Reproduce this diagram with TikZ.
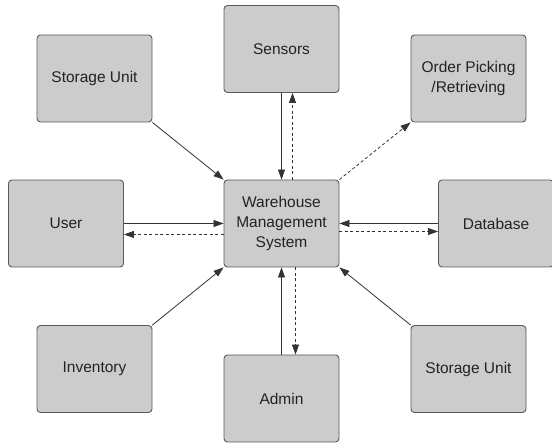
\documentclass[tikz,border=0pt]{standalone}
\usepackage{fontspec}
\setmainfont{Liberation Sans}
\usetikzlibrary{arrows.meta}
\definecolor{boxfill}{HTML}{CCCCCC}
\definecolor{boxline}{HTML}{5A5A5A}
\definecolor{linecol}{HTML}{333333}
\definecolor{txt}{HTML}{222222}
\begin{document}
\begin{tikzpicture}[x=1pt,y=-1pt,
  box/.style={draw=boxline, line width=0.9pt, fill=boxfill, rounded corners=3.5pt,
    minimum width=115pt, minimum height=87pt, inner sep=0pt, align=center,
    text=txt, font=\fontsize{15.5pt}{20pt}\selectfont},
  conn/.style={draw=linecol, line width=0.8pt, -{Triangle[length=10pt,width=7pt]}},
  dconn/.style={conn, dash pattern=on 3pt off 2.5pt}]
\useasboundingbox (0,0) rectangle (552,443);
\node[box] (stTL) at (94.5,78.5) {Storage Unit};
\node[box] (sens) at (281.5,49) {Sensors};
\node[box] (order) at (468.5,78.5) {Order Picking\\/Retrieving};
\node[box] (user) at (66,223.5) {User};
\node[box] (wms) at (281.5,223.5) {Warehouse\\Management\\System};
\node[box] (db) at (496,223.5) {Database};
\node[box] (inv) at (94.5,369) {Inventory};
\node[box] (admin) at (281.5,398.5) {Admin};
\node[box] (stBR) at (468.5,369) {Storage Unit};
% connectors
\draw[conn] (stTL.south east) -- (wms.north west);
\draw[conn] (sens.south) -- (wms.north);
\draw[dconn] ([xshift=11pt]wms.north) -- ([xshift=11pt]sens.south);
\draw[dconn] (wms.north east) -- (order.south west);
\draw[conn] (user.east) -- (wms.west);
\draw[dconn] ([yshift=-11pt]wms.west) -- ([yshift=-11pt]user.east);
\draw[conn] (db.west) -- (wms.east);
\draw[dconn] ([yshift=-8pt]wms.east) -- ([yshift=-8pt]db.west);
\draw[conn] (inv.north east) -- (wms.south west);
\draw[conn] (admin.north) -- (wms.south);
\draw[dconn] ([xshift=14pt]wms.south) -- ([xshift=14pt]admin.north);
\draw[conn] (stBR.north west) -- (wms.south east);
\end{tikzpicture}
\end{document}
